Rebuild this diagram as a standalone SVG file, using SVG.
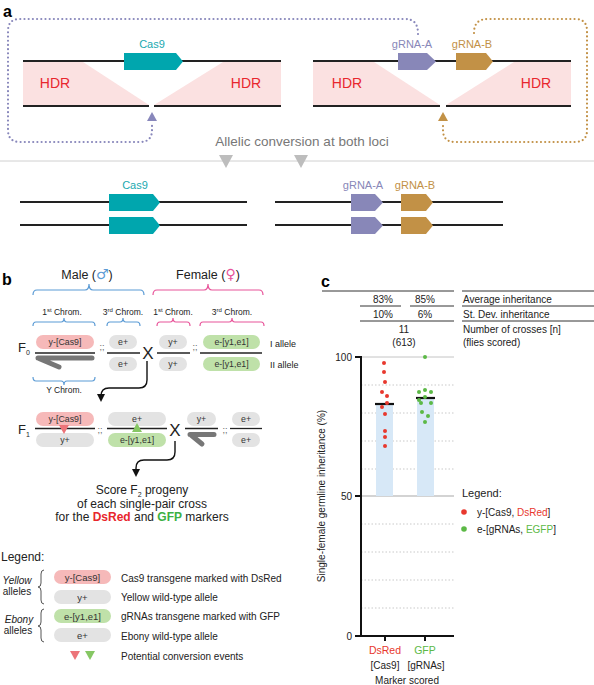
<svg xmlns="http://www.w3.org/2000/svg" width="594" height="685" viewBox="0 0 594 685">
<style>
text{font-family:"Liberation Sans",Arial,sans-serif}
.chr{stroke:#222;stroke-width:2;fill:none}
.hdr{fill:#fbe1e1}
.hdrt{font-size:14px;fill:#e8262d;text-anchor:middle}
.cas{fill:#00a6ae}
.ga{fill:#8887b8}
.gb{fill:#c29146}
.lbl{font-size:11px;text-anchor:middle}
.dotP{stroke:#8887bb;stroke-width:2.2;fill:none;stroke-dasharray:0 4.2;stroke-linecap:round}
.dotG{stroke:#c29146;stroke-width:2.2;fill:none;stroke-dasharray:0 4.2;stroke-linecap:round}
.pk{fill:#f6b9b9}
.gy{fill:#e3e3e3}
.gn{fill:#bfe1a9}
.pt{font-size:8.8px;fill:#333;text-anchor:middle}
.lpt{font-size:9.5px;fill:#333;text-anchor:middle}
.div{stroke:#222;stroke-width:1.3}
.bb{stroke:#5b9bd5;stroke-width:1.2;fill:none}
.pb{stroke:#e8559a;stroke-width:1.2;fill:none}
.ch{font-size:8.5px;fill:#222;text-anchor:middle}
.semi{font-size:9px;fill:#666;text-anchor:middle}
.ychr{stroke:#777;stroke-width:5;stroke-linecap:round;fill:none}
.arr{stroke:#111;stroke-width:1.4;fill:none}
.leg{font-size:10px;fill:#222}
.grid{stroke:#bbb;stroke-width:0.8;stroke-dasharray:1.5 2}
.tbl{stroke:#333;stroke-width:1}
.tt{font-size:10px;fill:#222}
.red{fill:#e8382e}
.grn{fill:#5cb946}
.sym{font-family:"DejaVu Sans",sans-serif;font-size:14px}
</style>
<defs>
<marker id="ah" markerWidth="8" markerHeight="8" refX="4" refY="4" orient="auto" markerUnits="userSpaceOnUse">
<path d="M0,0 L8,4 L0,8 Z" fill="#111"/>
</marker>
</defs>

<!-- Panel a -->
<text x="3" y="17" font-size="16" font-weight="bold">a</text>
<g id="connectors-a">
<path class="dotP" d="M418,34 C418,24 414,19 405,19 L20,19 Q8,19 8,31 L8,130 Q8,142 20,142 L140,142 Q152,142 152,130 L152,123"/>
<polygon points="147,121 157,121 152,112" fill="#8887bb"/>
<path class="dotG" d="M474,33 C474,24 478,19 488,19 L575,19 Q587,19 587,31 L587,130 Q587,142 575,142 L455,142 Q443,142 443,130 L443,123"/>
<polygon points="438,121 448,121 443,112" fill="#c29146"/>
</g>
<g id="locus-left">
<polygon class="hdr" points="23,62 83,62 149,105 23,105"/>
<polygon class="hdr" points="223,62 281,62 281,105 154,105"/>
<line class="chr" x1="23" y1="61" x2="281" y2="61"/>
<line class="chr" x1="23" y1="106" x2="149" y2="106"/>
<line class="chr" x1="154" y1="106" x2="281" y2="106"/>
<path class="cas" d="M124,53 H176 L183,61.5 L176,70 H124 Z"/>
<text class="lbl" x="152" y="48" fill="#1aa9b0">Cas9</text>
<text class="hdrt" x="55" y="88">HDR</text>
<text class="hdrt" x="246" y="88">HDR</text>
</g>
<g id="locus-right">
<polygon class="hdr" points="313,62 374,62 440,105 313,105"/>
<polygon class="hdr" points="514,62 571,62 571,105 446,105"/>
<line class="chr" x1="313" y1="61" x2="571" y2="61"/>
<line class="chr" x1="313" y1="106" x2="440" y2="106"/>
<line class="chr" x1="446" y1="106" x2="571" y2="106"/>
<path class="ga" d="M398,53 H427 L436,61.5 L427,70 H398 Z"/>
<path class="gb" d="M456,53 H486 L493,61.5 L486,70 H456 Z"/>
<text class="lbl" x="412" y="48" fill="#8887b8">gRNA-A</text>
<text class="lbl" x="472" y="48" fill="#c29146">gRNA-B</text>
<text class="hdrt" x="347" y="88">HDR</text>
<text class="hdrt" x="536" y="88">HDR</text>
</g>
<text x="302" y="146" font-size="13.5" fill="#777" text-anchor="middle">Allelic conversion at both loci</text>
<line x1="0" y1="161" x2="594" y2="161" stroke="#d0d0d0" stroke-width="1"/>
<polygon points="219,155 233,155 226,168" fill="#bdbdbd"/>
<polygon points="294,155 308,155 301,168" fill="#bdbdbd"/>
<g id="converted-left">
<line class="chr" x1="20" y1="202" x2="247" y2="202"/>
<line class="chr" x1="20" y1="225" x2="247" y2="225"/>
<path class="cas" d="M109,194 H153 L160,202.5 L153,211 H109 Z"/>
<path class="cas" d="M109,217 H153 L160,225.5 L153,234 H109 Z"/>
<text class="lbl" x="135" y="189" fill="#1aa9b0">Cas9</text>
</g>
<g id="converted-right">
<line class="chr" x1="275" y1="202" x2="503" y2="202"/>
<line class="chr" x1="275" y1="225" x2="503" y2="225"/>
<path class="ga" d="M351,194 H375 L383,202.5 L375,211 H351 Z"/>
<path class="ga" d="M351,217 H375 L383,225.5 L375,234 H351 Z"/>
<path class="gb" d="M401,194 H426 L433,202.5 L426,211 H401 Z"/>
<path class="gb" d="M401,217 H426 L433,225.5 L426,234 H401 Z"/>
<text class="lbl" x="363" y="189" fill="#8887b8">gRNA-A</text>
<text class="lbl" x="415" y="189" fill="#c29146">gRNA-B</text>
</g>

<!-- Panel b -->
<text x="2" y="285" font-size="16" font-weight="bold">b</text>
<g id="headers-b">
<text x="87" y="279" font-size="12.5" text-anchor="middle" fill="#222">Male (<tspan class="sym" fill="#5b9bd5">♂</tspan>)</text>
<text x="208" y="279" font-size="12.5" text-anchor="middle" fill="#222">Female (<tspan class="sym" fill="#e8559a">♀</tspan>)</text>
<path class="bb" d="M33,295 Q33,290 37,290 L85,290 Q89,290 89,284 Q89,290 93,290 L140,290 Q144,290 144,295"/>
<path class="pb" d="M153,295 Q153,290 157,290 L204,290 Q208,290 208,284 Q208,290 212,290 L259,290 Q263,290 263,295"/>
<text class="ch" x="62" y="315">1<tspan font-size="6" dy="-3">st</tspan><tspan dy="3"> Chrom.</tspan></text>
<text class="ch" x="123" y="315">3<tspan font-size="6" dy="-3">rd</tspan><tspan dy="3"> Chrom.</tspan></text>
<text class="ch" x="173" y="315">1<tspan font-size="6" dy="-3">st</tspan><tspan dy="3"> Chrom.</tspan></text>
<text class="ch" x="232" y="315">3<tspan font-size="6" dy="-3">rd</tspan><tspan dy="3"> Chrom.</tspan></text>
<path class="bb" d="M33,326 Q33,322 36,322 L61,322 Q64,322 64,318 Q64,322 67,322 L92,322 Q95,322 95,326"/>
<path class="bb" d="M107,326 Q107,322 110,322 L120,322 Q123,322 123,318 Q123,322 126,322 L137,322 Q140,322 140,326"/>
<path class="pb" d="M157,326 Q157,322 160,322 L170,322 Q173,322 173,318 Q173,322 176,322 L187,322 Q190,322 190,326"/>
<path class="pb" d="M200,326 Q200,322 203,322 L229,322 Q232,322 232,318 Q232,322 235,322 L261,322 Q264,322 264,326"/>
</g>
<g id="F0">
<text x="18" y="352" font-size="13" fill="#222">F<tspan font-size="7" dy="3">0</tspan></text>
<rect class="pk" x="36" y="335" width="58" height="14" rx="7"/>
<text class="pt" x="65" y="345">y-[Cas9]</text>
<line class="div" x1="35" y1="353" x2="95" y2="353"/>
<path class="ychr" d="M38,358 L92,358 M39,358.5 L59,367"/>
<text class="semi" x="102" y="350">;;</text>
<rect class="gy" x="109" y="335" width="28" height="14" rx="7"/>
<text class="pt" x="123" y="345">e+</text>
<line class="div" x1="107" y1="353" x2="140" y2="353"/>
<rect class="gy" x="109" y="357" width="28" height="14" rx="7"/>
<text class="pt" x="123" y="367">e+</text>
<text x="148" y="359" font-size="17" text-anchor="middle" fill="#222">X</text>
<rect class="gy" x="159" y="335" width="28" height="14" rx="7"/>
<text class="pt" x="173" y="345">y+</text>
<line class="div" x1="157" y1="353" x2="190" y2="353"/>
<rect class="gy" x="159" y="357" width="28" height="14" rx="7"/>
<text class="pt" x="173" y="367">y+</text>
<text class="semi" x="195" y="350">;;</text>
<rect class="gn" x="203" y="335" width="57" height="14" rx="7"/>
<text class="pt" x="231.5" y="345">e-[y1,e1]</text>
<line class="div" x1="200" y1="353" x2="262" y2="353"/>
<rect class="gn" x="203" y="357" width="57" height="14" rx="7"/>
<text class="pt" x="231.5" y="367">e-[y1,e1]</text>
<text x="270" y="347" font-size="9" fill="#222">I allele</text>
<text x="270" y="368" font-size="9" fill="#222">II allele</text>
<path class="bb" d="M33,377 Q33,381 36,381 L61,381 Q64,381 64,385 Q64,381 67,381 L92,381 Q95,381 95,377"/>
<text class="ch" x="64" y="393">Y Chrom.</text>
</g>
<g id="connectors-b">
<path class="arr" d="M147,361 L147,380 Q147,388 139,388 L109,388 Q101,388 101,396 L101,398" marker-end="url(#ah)"/>
<path class="arr" d="M175,441 L175,452 Q175,460 167,460 L144,460 Q136,460 136,468 L136,473" marker-end="url(#ah)"/>
</g>
<g id="F1">
<text x="18" y="434" font-size="13" fill="#222">F<tspan font-size="7" dy="3">1</tspan></text>
<rect class="pk" x="36" y="412" width="58" height="14" rx="7"/>
<text class="pt" x="65" y="422">y-[Cas9]</text>
<rect class="gy" x="36" y="433" width="58" height="14" rx="7"/>
<text class="pt" x="65" y="443">y+</text>
<line class="div" x1="35" y1="428.5" x2="95" y2="428.5"/>
<polygon points="59,425 69,425 64,434" fill="#ec7479"/>
<text class="semi" x="100" y="433">;;</text>
<rect class="gy" x="108" y="412" width="58" height="14" rx="7"/>
<text class="pt" x="137" y="422">e+</text>
<rect class="gn" x="108" y="433" width="58" height="14" rx="7"/>
<text class="pt" x="137" y="443">e-[y1,e1]</text>
<line class="div" x1="107" y1="428.5" x2="167" y2="428.5"/>
<polygon points="132,432 142,432 137,423" fill="#86c764"/>
<text x="175" y="436" font-size="17" text-anchor="middle" fill="#222">X</text>
<rect class="gy" x="187" y="412" width="29" height="14" rx="7"/>
<text class="pt" x="201.5" y="422">y+</text>
<line class="div" x1="185" y1="428.5" x2="218" y2="428.5"/>
<path class="ychr" d="M190,434.5 L214,434.5 M191,435 L202,444"/>
<text class="semi" x="225" y="433">;;</text>
<rect class="gy" x="232" y="412" width="28" height="14" rx="7"/>
<text class="pt" x="246" y="422">e+</text>
<line class="div" x1="230" y1="428.5" x2="262" y2="428.5"/>
<rect class="gy" x="232" y="433" width="28" height="14" rx="7"/>
<text class="pt" x="246" y="443">e+</text>
</g>
<g id="score-text">
<text x="142" y="494" font-size="12" text-anchor="middle" fill="#222">Score F<tspan font-size="7" dy="3">2</tspan><tspan dy="-3"> progeny</tspan></text>
<text x="142" y="508" font-size="12" text-anchor="middle" fill="#222">of each single-pair cross</text>
<text x="142" y="521" font-size="12" text-anchor="middle" fill="#222">for the <tspan fill="#e8262d" font-weight="bold">DsRed</tspan> and <tspan fill="#3cb043" font-weight="bold">GFP</tspan> markers</text>
</g>
<g id="legend-b">
<text x="1" y="561" font-size="12" fill="#222">Legend:</text>
<text x="17" y="584" font-size="10" font-style="italic" text-anchor="middle" fill="#222">Yellow</text>
<text x="17" y="595" font-size="10" text-anchor="middle" fill="#222">alleles</text>
<text x="19" y="623" font-size="10" font-style="italic" text-anchor="middle" fill="#222">Ebony</text>
<text x="18" y="634" font-size="10" text-anchor="middle" fill="#222">alleles</text>
<path d="M44,570 Q41,570 41,574 L41,583 Q41,587 38,587 Q41,587 41,591 L41,600 Q41,604 44,604" stroke="#555" stroke-width="1" fill="none"/>
<path d="M44,609 Q41,609 41,613 L41,622 Q41,626 38,626 Q41,626 41,630 L41,638 Q41,642 44,642" stroke="#555" stroke-width="1" fill="none"/>
<rect class="pk" x="54" y="570" width="57" height="14" rx="7"/>
<text class="lpt" x="82.5" y="580.5">y-[Cas9]</text>
<rect class="gy" x="54" y="590" width="57" height="14" rx="7"/>
<text class="lpt" x="82.5" y="600.5">y+</text>
<rect class="gn" x="54" y="609" width="57" height="14" rx="7"/>
<text class="lpt" x="82.5" y="619.5">e-[y1,e1]</text>
<rect class="gy" x="54" y="628" width="57" height="14" rx="7"/>
<text class="lpt" x="82.5" y="638.5">e+</text>
<polygon points="70,651 80,651 75,660" fill="#ec7479"/>
<polygon points="85,651 95,651 90,660" fill="#86c764"/>
<text class="leg" x="121" y="582">Cas9 transgene marked with DsRed</text>
<text class="leg" x="121" y="601">Yellow wild-type allele</text>
<text class="leg" x="121" y="620">gRNAs transgene marked with GFP</text>
<text class="leg" x="121" y="640">Ebony wild-type allele</text>
<text class="leg" x="121" y="660">Potential conversion events</text>
</g>

<!-- Panel c -->
<text x="321" y="287" font-size="16" font-weight="bold">c</text>
<g id="table-c">
<line class="tbl" x1="322" y1="291" x2="454" y2="291"/>
<line class="tbl" x1="462" y1="291" x2="594" y2="291"/>
<text class="tt" x="383" y="303" text-anchor="middle">83%</text>
<text class="tt" x="425" y="303" text-anchor="middle">85%</text>
<line class="tbl" x1="360" y1="306" x2="401" y2="306"/>
<line class="tbl" x1="410" y1="306" x2="454" y2="306"/>
<line class="tbl" x1="462" y1="306" x2="594" y2="306"/>
<text class="tt" x="383" y="318" text-anchor="middle">10%</text>
<text class="tt" x="425" y="318" text-anchor="middle">6%</text>
<line class="tbl" x1="360" y1="321" x2="454" y2="321"/>
<line class="tbl" x1="462" y1="321" x2="594" y2="321"/>
<text class="tt" x="404" y="333" text-anchor="middle">11</text>
<text class="tt" x="404" y="346" text-anchor="middle">(613)</text>
<text class="tt" x="463" y="303">Average inheritance</text>
<text class="tt" x="463" y="318">St. Dev. inheritance</text>
<text class="tt" x="463" y="333">Number of crosses [n]</text>
<text class="tt" x="463" y="346">(flies scored)</text>
</g>
<g id="chart-c">
<line class="grid" x1="361" y1="385" x2="454" y2="385"/>
<line class="grid" x1="361" y1="413" x2="454" y2="413"/>
<line class="grid" x1="361" y1="441" x2="454" y2="441"/>
<line class="grid" x1="361" y1="469" x2="454" y2="469"/>
<line class="grid" x1="361" y1="524" x2="454" y2="524"/>
<line class="grid" x1="361" y1="552" x2="454" y2="552"/>
<line class="grid" x1="361" y1="580" x2="454" y2="580"/>
<line class="grid" x1="361" y1="608" x2="454" y2="608"/>
<line x1="361" y1="357" x2="454" y2="357" stroke="#c4c4c4" stroke-width="1"/>
<line x1="361" y1="496" x2="454" y2="496" stroke="#c4c4c4" stroke-width="1.5"/>
<rect x="376" y="404" width="17" height="92" fill="#d7e8f7"/>
<rect x="417" y="398" width="17" height="98" fill="#d7e8f7"/>
<line x1="375" y1="404" x2="394" y2="404" stroke="#111" stroke-width="2.2"/>
<line x1="416" y1="398" x2="435" y2="398" stroke="#111" stroke-width="2.2"/>
<g class="red">
<circle cx="384" cy="363" r="2"/><circle cx="384" cy="372" r="2"/><circle cx="385" cy="382" r="2"/>
<circle cx="382" cy="392" r="2"/><circle cx="387" cy="396" r="2"/><circle cx="387" cy="403" r="2"/>
<circle cx="382" cy="407" r="2"/><circle cx="385" cy="414" r="2"/><circle cx="385" cy="431" r="2"/>
<circle cx="385" cy="437" r="2"/><circle cx="385" cy="446" r="2"/>
</g>
<g class="grn">
<circle cx="425" cy="357" r="2"/><circle cx="419" cy="392" r="2"/><circle cx="425" cy="390" r="2"/>
<circle cx="431" cy="392" r="2"/><circle cx="419" cy="400" r="2"/><circle cx="425" cy="397" r="2"/>
<circle cx="421" cy="403" r="2"/><circle cx="431" cy="403" r="2"/><circle cx="422" cy="412" r="2"/>
<circle cx="428" cy="416" r="2"/><circle cx="425" cy="422" r="2"/>
</g>
<path d="M361,356 L361,636 L454,636" stroke="#111" stroke-width="2" fill="none"/>
<line x1="355" y1="357" x2="361" y2="357" stroke="#111" stroke-width="2"/>
<line x1="355" y1="496" x2="361" y2="496" stroke="#111" stroke-width="2"/>
<line x1="355" y1="636" x2="361" y2="636" stroke="#111" stroke-width="2"/>
<line x1="385" y1="636" x2="385" y2="641" stroke="#111" stroke-width="2"/>
<line x1="425" y1="636" x2="425" y2="641" stroke="#111" stroke-width="2"/>
<text class="tt" x="352" y="361" text-anchor="end" font-size="11">100</text>
<text class="tt" x="352" y="500" text-anchor="end" font-size="11">50</text>
<text class="tt" x="352" y="640" text-anchor="end" font-size="11">0</text>
<text class="tt" x="325" y="496" font-size="10.5" text-anchor="middle" transform="rotate(-90 325 496)">Single-female germline inheritance (%)</text>
<text x="385" y="654" font-size="10.5" text-anchor="middle" fill="#e8382e">DsRed</text>
<text x="425" y="654" font-size="10.5" text-anchor="middle" fill="#5cb946">GFP</text>
<text class="tt" x="385" y="669" font-size="10.5" text-anchor="middle">[Cas9]</text>
<text class="tt" x="426" y="669" font-size="10.5" text-anchor="middle">[gRNAs]</text>
<text class="tt" x="407" y="684" font-size="10.5" text-anchor="middle">Marker scored</text>
</g>
<g id="legend-c">
<text x="462" y="497" font-size="11" fill="#222">Legend:</text>
<circle cx="464" cy="512" r="2.8" fill="#e8382e"/>
<text x="477" y="516" font-size="10" fill="#222">y-[Cas9, <tspan fill="#e8382e">DsRed</tspan>]</text>
<circle cx="464" cy="529" r="2.8" fill="#5cb946"/>
<text x="477" y="533" font-size="10" fill="#222">e-[gRNAs, <tspan fill="#5cb946">EGFP</tspan>]</text>
</g>
</svg>
